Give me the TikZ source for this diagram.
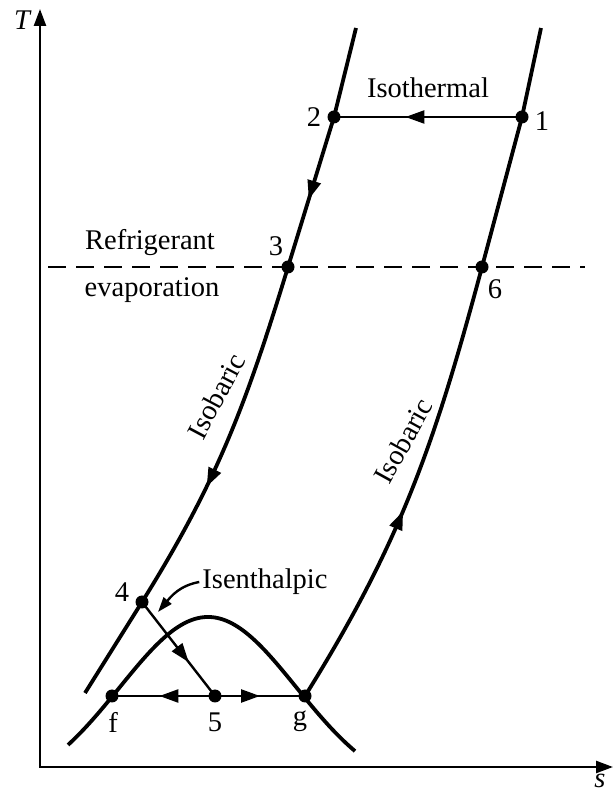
\documentclass[tikz,border=0pt]{standalone}
\usepackage{fontspec}
\setmainfont{Liberation Serif}
\usetikzlibrary{arrows.meta,decorations.markings}
\begin{document}
\begin{tikzpicture}[x=1pt,y=1pt,
  lbl/.style={font=\fontsize{28.5}{31}\selectfont, inner sep=0pt},
  curveline/.style={line width=3.8pt},
  thinline/.style={line width=2.4pt},
  midarrow/.style={postaction={decorate},decoration={markings,
     mark=at position #1 with {\arrow{Triangle[length=19pt,width=13pt]}}}},
  dotstyle/.style={fill=black}
]
\useasboundingbox (0,0) rectangle (613,793);
% points
\coordinate (O) at (40,26);
\coordinate (Ttip) at (40,784);
\coordinate (stip) at (613,26);
\coordinate (L0) at (356,765);
\coordinate (p2) at (334,676);
\coordinate (p3) at (288,526);
\coordinate (p4) at (142,191);
\coordinate (Lend) at (85,100);
\coordinate (R0) at (541,765);
\coordinate (p1) at (522,676);
\coordinate (p6) at (482,526);
\coordinate (g) at (305,97);
\coordinate (f) at (112,97);
\coordinate (p5) at (215,97);
\coordinate (dA) at (48,526);
\coordinate (dB) at (585,526);
\coordinate (isentip) at (158,181);
% axes
\draw[thinline,{Triangle[length=17pt,width=12pt]}-{Triangle[length=17pt,width=12pt]}] (Ttip) -- (O) -- (stip);
\node[lbl,font=\fontsize{28.5}{31}\selectfont\itshape] (Tl) at (22,773) {T};
\node[lbl,font=\fontsize{28.5}{31}\selectfont\itshape] (sl) at (600,12) {s};
% dashed evaporation line
\draw[line width=2.6pt, dash pattern=on 18pt off 10pt] (dA) -- (dB);
% left isobar
\draw[curveline] (L0) -- (p2);
\draw[curveline, midarrow=0.55] (p2) -- (p3);
\draw[curveline, midarrow=0.64] (p3) to[out=253,in=58] (p4);
\draw[curveline] (p4) -- (Lend);
% right isobar
\draw[curveline] (R0) -- (p1) -- (p6);
\draw[curveline, midarrow=0.45] (g) to[out=58,in=255] (p6);
% isothermal
\draw[thinline, midarrow=0.62] (p1) -- (p2);
% isenthalpic
\draw[thinline, midarrow=0.64] (p4) -- (p5);
% evaporation at f-g
\draw[thinline, midarrow=0.54] (p5) -- (f);
\draw[thinline, midarrow=0.5] (p5) -- (g);
% saturation dome
\draw[curveline] plot[domain=68:355, samples=90, smooth]
  (\x, {-3+179*exp(0-((\x-208)/125)*((\x-208)/125))});
% dots
\foreach \p in {p1,p2,p3,p4,p5,p6,f,g} \fill[dotstyle] (\p) circle (6.5pt);
% labels
\node[lbl] (n1) at (542,672) {1};
\node[lbl] (n2) at (314,676) {2};
\node[lbl] (n3) at (276,547) {3};
\node[lbl] (n6) at (495,504) {6};
\node[lbl] (n4) at (122,201) {4};
\node[lbl] (nf) at (113,71) {f};
\node[lbl] (n5) at (215,71) {5};
\node[lbl] (ng) at (300,72) {g};
\node[lbl] (iso) at (428,705) {Isothermal};
\node[lbl] (ref) at (150,550) {Refrigerant};
\node[lbl] (evap) at (152,503) {evaporation};
\node[lbl, rotate=62] (isoL) at (216,397) {Isobaric};
\node[lbl, rotate=61] (isoR) at (403,352) {Isobaric};
\node[lbl] (isen) at (265,211) {Isenthalpic};
\draw[thinline,-{Triangle[length=15pt,width=10pt]}] ([xshift=-3pt]isen.west) to[out=190,in=50] (isentip);
\end{tikzpicture}
\end{document}
